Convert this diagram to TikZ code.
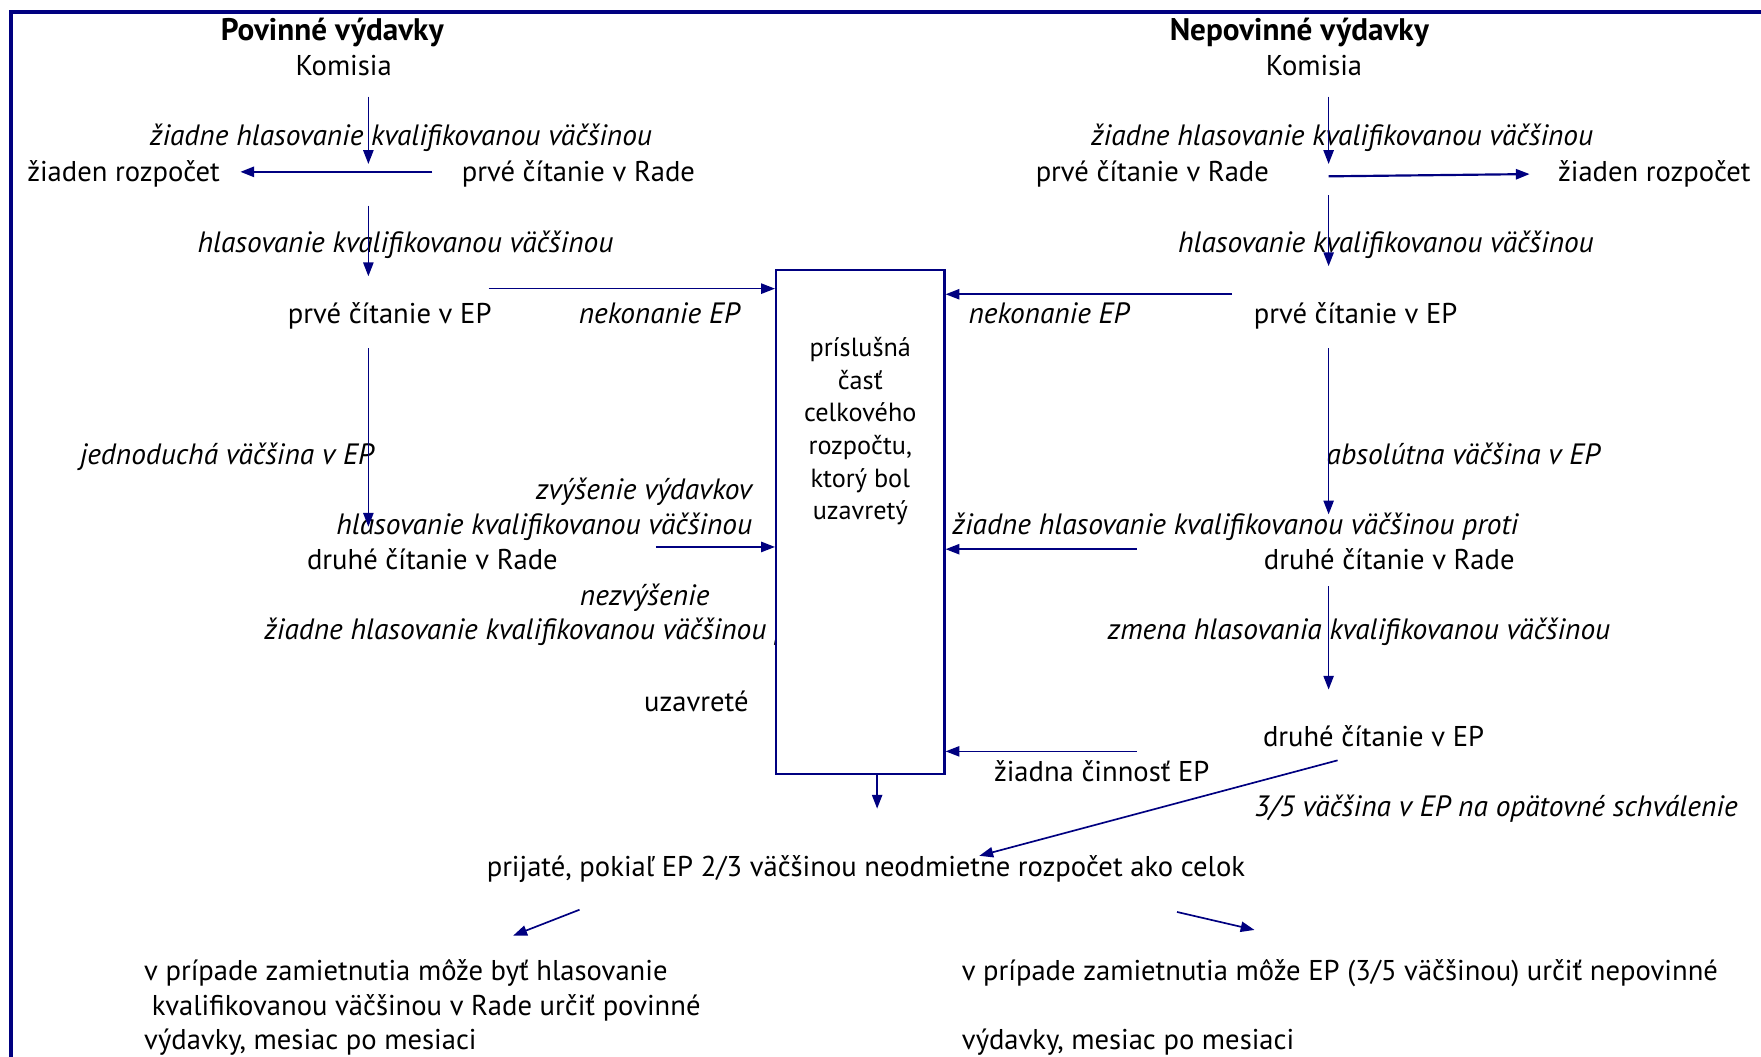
\documentclass[tikz,border=0pt]{standalone}
\usepackage{fontspec}
\setmainfont{PT Sans}
\usetikzlibrary{arrows.meta}
\definecolor{eublue}{RGB}{0,0,128}
\tikzset{
  lbl/.style={inner sep=0pt, text height=12pt, text depth=2pt, font=\fontsize{14.5}{17}\selectfont},
  vote/.style={lbl, font=\fontsize{14.9}{17}\selectfont\itshape},
  head/.style={lbl, font=\fontsize{15.8}{18}\selectfont\bfseries},
  flow/.style={draw=eublue, line width=0.85pt, -{Triangle[length=7pt,width=5.2pt]}},
}
\begin{document}
\begin{tikzpicture}[x=0.02cm, y=-0.02cm]
\clip (0,0) rectangle (1568,941);
\draw[eublue, line width=2pt] (10,1000) -- (10,11) -- (1600,11);

% povinne vydavky
\node[head] (pvyd) at (296,27) {Povinné výdavky};
\node[lbl] (pkom) at (306,58) {Komisia};
\node[vote] (pnohl) at (357,121) {žiadne hlasovanie kvalifikovanou väčšinou};
\node[lbl] (pnic) at (110,153) {žiaden rozpočet};
\node[lbl] (prada1) at (515,153) {prvé čítanie v Rade};
\node[vote] (phl1) at (361,216) {hlasovanie kvalifikovanou väčšinou};
\node[lbl] (pep1) at (347,279) {prvé čítanie v EP};
\node[vote] (pnek) at (587,279) {nekonanie EP};
\node[vote] (pjedn) at (202,405) {jednoduchá väčšina v EP};
\node[vote, anchor=east] (pzvys) at (670,436) {zvýšenie výdavkov};
\node[vote, anchor=east] (phl2) at (670,467) {hlasovanie kvalifikovanou väčšinou};
\node[lbl] (prada2) at (385,498) {druhé čítanie v Rade};
\node[vote] (pnezv) at (574,530) {nezvýšenie};
\node[vote, anchor=west] (pnohl2) at (235,561) {žiadne hlasovanie kvalifikovanou väčšinou proti};
\node[lbl] (puzav) at (620,625) {uzavreté};

% nepovinne vydavky
\node[head] (nvyd) at (1157,27) {Nepovinné výdavky};
\node[lbl] (nkom) at (1170,58) {Komisia};
\node[vote] (nnohl) at (1195,121) {žiadne hlasovanie kvalifikovanou väčšinou};
\node[lbl] (nrada1) at (1026,153) {prvé čítanie v Rade};
\node[lbl] (nnic) at (1473,153) {žiaden rozpočet};
\node[vote] (nhl1) at (1234,216) {hlasovanie kvalifikovanou väčšinou};
\node[lbl] (nep1) at (1207,279) {prvé čítanie v EP};
\node[vote] (nnek) at (934,279) {nekonanie EP};
\node[vote] (nabs) at (1303,405) {absolútna väčšina v EP};
\node[vote] (nnohl2) at (1100,467) {žiadne hlasovanie kvalifikovanou väčšinou proti};
\node[lbl] (nrada2) at (1237,498) {druhé čítanie v Rade};
\node[vote] (nzmena) at (1210,561) {zmena hlasovania kvalifikovanou väčšinou};
\node[lbl] (nep2) at (1223,656) {druhé čítanie v EP};
\node[lbl] (nnicep) at (981,687) {žiadna činnosť EP};
\node[vote] (ntri) at (1332,718) {3/5 väčšina v EP na opätovné schválenie};

% uzavrety rozpocet
\node[draw=eublue, line width=1.1pt, fill=white, minimum width=3cm, minimum height=8.98cm, inner sep=0pt] (box) at (766,464.5) {};
\node[lbl, align=center, text height=, text depth=, font=\fontsize{13.3}{16.5}\selectfont] (boxtxt) at (766,384)
  {príslušná\\časť\\celkového\\rozpočtu,\\ktorý bol\\uzavretý};
\node[lbl] (prij) at (771,772) {prijaté, pokiaľ EP 2/3 väčšinou neodmietne rozpočet ako celok};
\node[lbl, align=left, anchor=north west, text height=, text depth=, font=\fontsize{14.5}{17.6}\selectfont] (pmes) at (128,854)
  {v prípade zamietnutia môže byť hlasovanie\\\ kvalifikovanou väčšinou v Rade určiť povinné\\výdavky, mesiac po mesiaci};
\node[lbl, align=left, anchor=north west, text height=, text depth=, font=\fontsize{14.5}{17.6}\selectfont] (nmes) at (856,854)
  {v prípade zamietnutia môže EP (3/5 väčšinou) určiť nepovinné\\[17.6pt]výdavky, mesiac po mesiaci};

% sipky
\coordinate (pa1) at (328,86);  \coordinate (pa2) at (328,146);
\coordinate (pb1) at (385,153); \coordinate (pb2) at (214,153);
\coordinate (pc1) at (328,183); \coordinate (pc2) at (328,246);
\coordinate (pd1) at (435,257);
\coordinate (pe1) at (328,310); \coordinate (pe2) at (328,469);
\coordinate (pf1) at (584,487);
\coordinate (na1) at (1183,86);  \coordinate (na2) at (1183,146);
\coordinate (nb1) at (1183,157); \coordinate (nb2) at (1362,155);
\coordinate (nc1) at (1183,174); \coordinate (nc2) at (1183,237);
\coordinate (nd1) at (1097,262);
\coordinate (ne1) at (1183,310); \coordinate (ne2) at (1183,458);
\coordinate (nf1) at (1012,489);
\coordinate (ng1) at (1183,522); \coordinate (ng2) at (1183,614);
\coordinate (nh1) at (1012,669);
\coordinate (ni1) at (1191,677); \coordinate (ni2) at (872,762);
\coordinate (box1) at (781,720);
\coordinate (ra1) at (516,810); \coordinate (ra2) at (457,833);
\coordinate (rb1) at (1048,812); \coordinate (rb2) at (1117,828);

\draw[flow] (pa1) -- (pa2);
\draw[flow, line width=1.1pt] (pb1) -- (pb2);
\draw[flow] (pc1) -- (pc2);
\draw[flow] (pd1) -- (pd1 -| box.west);
\draw[flow] (pe1) -- (pe2);
\draw[flow] (pf1) -- (pf1 -| box.west);
\draw[flow] (na1) -- (na2);
\draw[flow, line width=1.1pt] (nb1) -- (nb2);
\draw[flow] (nc1) -- (nc2);
\draw[flow] (nd1) -- (nd1 -| box.east);
\draw[flow] (ne1) -- (ne2);
\draw[flow] (nf1) -- (nf1 -| box.east);
\draw[flow] (ng1) -- (ng2);
\draw[flow] (nh1) -- (nh1 -| box.east);
\draw[flow] (ni1) -- (ni2);
\draw[flow] (box1 |- box.south) -- (box1);
\draw[flow] (ra1) -- (ra2);
\draw[flow] (rb1) -- (rb2);
\end{tikzpicture}
\end{document}
